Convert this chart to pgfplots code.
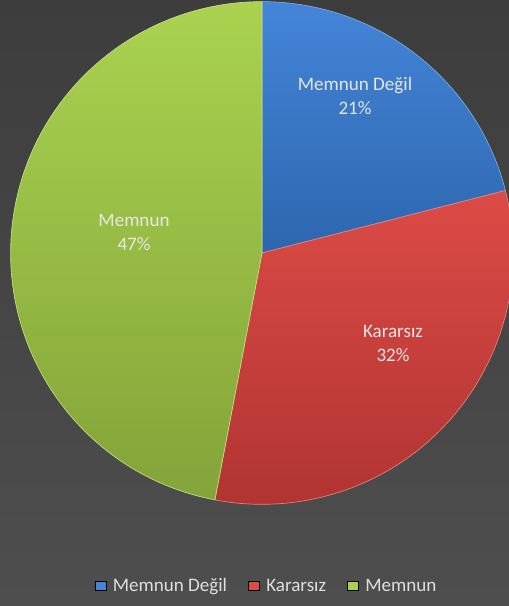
\documentclass[border=0pt]{standalone}
\usepackage{pgfplots}
\pgfplotsset{compat=1.18}
\usepackage{fontspec}
\setmainfont{Carlito}
\definecolor{bgtop}{HTML}{3D3D3D}
\definecolor{bgbot}{HTML}{4E4E4E}
\definecolor{blueT}{HTML}{4485D8}
\definecolor{blueB}{HTML}{2D66AE}
\definecolor{redT}{HTML}{DC4B46}
\definecolor{redB}{HTML}{B03432}
\definecolor{greenT}{HTML}{AAD24F}
\definecolor{greenB}{HTML}{83A439}
\definecolor{legtext}{HTML}{DEDEDE}
\definecolor{labtext}{HTML}{E6E6E6}
% data: percentages
\def\vA{21}\def\vB{32}\def\vC{47}
\begin{document}
\begin{tikzpicture}
\begin{axis}[hide axis, x=0.75pt, y=0.75pt, xmin=0,xmax=509,ymin=0,ymax=606,
  scale only axis, clip=false, at={(0,0)}, anchor=south west,
  legend columns=3,
  legend style={draw=none, fill=none, at={(axis cs:267,20)}, anchor=center,
    font=\fontsize{14.3}{16}\selectfont, text=legtext,
    /tikz/every even column/.append style={column sep=14pt}},
  legend image code/.code={\fill[#1] (0pt,-3.2pt) rectangle (8pt,3.8pt); \path (11pt,0pt);}]
\shade[top color=bgtop,bottom color=bgbot] (axis cs:0,0) rectangle (axis cs:509,606);
\coordinate (bl) at (axis cs:0,0);
\coordinate (tr) at (axis cs:509,606);
\pgfmathsetmacro{\aA}{90-3.6*\vA}
\pgfmathsetmacro{\aB}{\aA-3.6*\vB}
\pgfmathsetmacro{\aC}{\aB-3.6*\vC}
\def\R{188.5pt}
\shade[top color=blueT,bottom color=blueB,draw=blueT!70!white,line width=0.5pt]
  (axis cs:262,353) -- ++(90:\R) arc[start angle=90,end angle=\aA,radius=\R] -- cycle;
\shade[top color=redT,bottom color=redB,draw=redT!70!white,line width=0.5pt]
  (axis cs:262,353) -- ++(\aA:\R) arc[start angle=\aA,end angle=\aB,radius=\R] -- cycle;
\shade[top color=greenT,bottom color=greenB,draw=greenT!70!white,line width=0.5pt]
  (axis cs:262,353) -- ++(\aB:\R) arc[start angle=\aB,end angle=\aC,radius=\R] -- cycle;
\node[align=center,text=labtext,font=\fontsize{14.3}{18}\selectfont] at (axis cs:355,510) {Memnun Değil\\21\%};
\node[align=center,text=labtext,font=\fontsize{14.3}{18}\selectfont] at (axis cs:393,263) {Kararsız\\32\%};
\node[align=center,text=labtext,font=\fontsize{14.3}{18}\selectfont] at (axis cs:134,374) {Memnun\\47\%};
\addlegendimage{fill=blueT}\addlegendentry{Memnun Değil}
\addlegendimage{fill=redT}\addlegendentry{Kararsız}
\addlegendimage{fill=greenT}\addlegendentry{Memnun}
\end{axis}
\pgfresetboundingbox
\path[use as bounding box] (bl) rectangle (tr);
\end{tikzpicture}
\end{document}
